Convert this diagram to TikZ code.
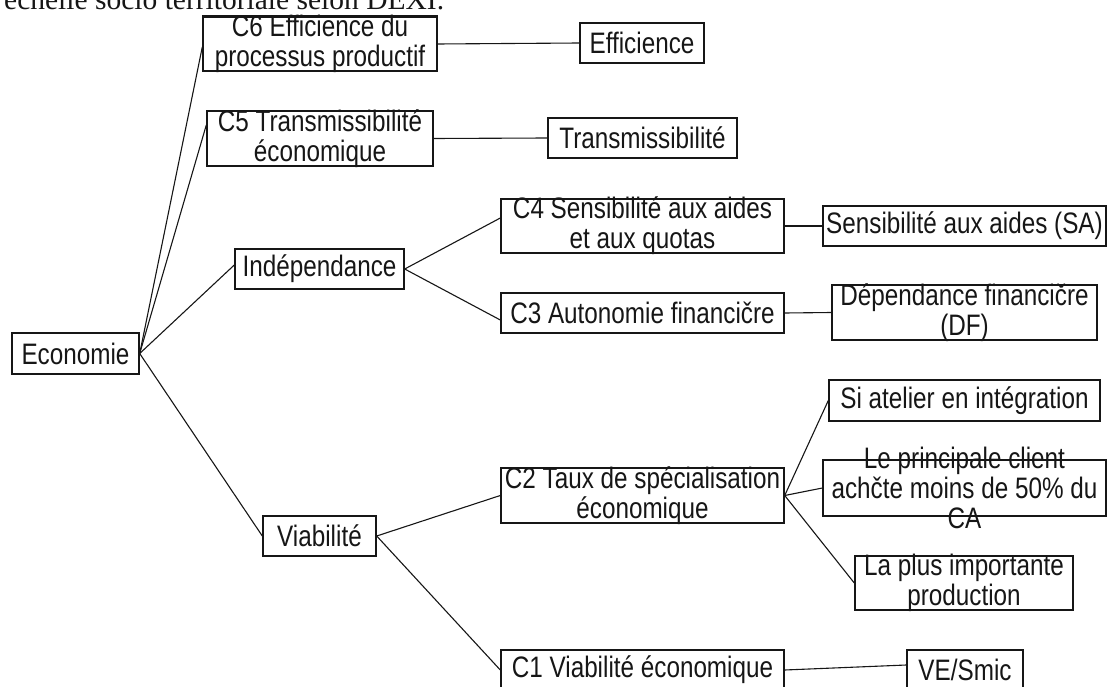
\documentclass[tikz,border=0pt]{standalone}
\usepackage{fontspec}
\setmainfont{Liberation Serif}
\newfontfamily\boxfont[FakeStretch=0.82]{Liberation Sans}
\usepackage{xcolor}
\definecolor{ink}{HTML}{161616}
\usetikzlibrary{positioning}
\tikzset{
  crit/.style={draw=ink,line width=1.4pt,fill=white,inner sep=0pt,minimum height=40},
  tall/.style={crit,minimum height=55},
  txt/.style={font={\boxfont\fontsize{29.6}{30}\selectfont},text=ink,align=center,inner sep=0pt},
  link/.style={draw=ink,line width=1.1pt},
  captext/.style={font={\fontsize{29.5}{30}\selectfont},text=ink,anchor=base west,inner sep=0pt},
}

\begin{document}
\begin{tikzpicture}[x=1pt,y=-1pt]
  \useasboundingbox (0,0) rectangle (1108,687);
  \clip (0,0) rectangle (1108,687);
  % caption, cut by the top of the page
  \node[captext] (title) at (4,9.5) {échelle socio territoriale selon DEXI.};

  % boxes
  \node[crit,minimum width=127,minimum height=41] (eco) at (75.5,353.5) {};
  \node[tall,minimum width=234,minimum height=54] (c6) at (320,44) {};
  \node[crit,minimum width=124] (eff) at (642,43) {};
  \node[tall,minimum width=226] (c5) at (320,138.5) {};
  \node[crit,minimum width=189] (tra) at (642.5,138) {};
  \node[crit,minimum width=169] (ind) at (319.5,269) {};
  \node[tall,minimum width=283,minimum height=54] (c4) at (642.5,226) {};
  \node[crit,minimum width=283] (sa) at (964.5,226) {};
  \node[crit,minimum width=283] (c3) at (642.5,313) {};
  \node[tall,minimum width=265] (df) at (964.5,312.5) {};
  \node[crit,minimum width=113] (via) at (319.5,536) {};
  \node[tall,minimum width=283] (c2) at (642.5,495.5) {};
  \node[crit,minimum width=271,minimum height=41] (si) at (964.5,400.5) {};
  \node[tall,minimum width=283,minimum height=56] (cli) at (964.5,488) {};
  \node[tall,minimum width=218,minimum height=54] (prod) at (964,583) {};
  \node[crit,minimum width=283] (c1) at (642.5,670) {};
  \node[crit,minimum width=116] (ve) at (965,670) {};
  \draw[draw=ink,line width=3pt] (c6.north west) -- (c6.north east);

  % texts
  \node[txt] (ecot) at (eco) {Economie};
  \node[txt] (c6t) at (c6) {C6 Efficience du\\processus productif};
  \node[txt] (efft) at (eff) {Efficience};
  \node[txt] (c5t) at (c5) {C5 Transmissibilité\\économique};
  \node[txt] (trat) at (tra) {Transmissibilité};
  \node[txt] (indt) at (ind) {Indépendance};
  \node[txt] (c4t) at (c4) {C4 Sensibilité aux aides\\et aux quotas};
  \node[txt] (sat) at (sa) {Sensibilité aux aides (SA)};
  \node[txt] (c3t) at (c3) {C3 Autonomie financičre};
  \node[txt] (dft) at (df) {Dépendance financičre\\(DF)};
  \node[txt] (viat) at (via) {Viabilité};
  \node[txt] (c2t) at (c2) {C2 Taux de spécialisation\\économique};
  \node[txt] (sit) at (si) {Si atelier en intégration};
  \node[txt] (clit) at (cli) {Le principale client\\achčte moins de 50\% du\\CA};
  \node[txt] (prodt) at (prod) {La plus importante\\production};
  \node[txt] (c1t) at (c1) {C1 Viabilité économique};
  \node[txt] (vet) at (ve) {VE/Smic};

  % links
  \draw[link] (eco.east) -- ([yshift=-3pt]c6.west);
  \draw[link] (eco.east) -- ([yshift=13.5pt]c5.west);
  \draw[link] (eco.east) -- ([yshift=4pt]ind.west);
  \draw[link] (eco.east) -- (via.west);
  \draw[link] (c6.east) -- (eff.west);
  \draw[link] (c5.east) -- (tra.west);
  \draw[link] (ind.east) -- ([yshift=8pt]c4.west);
  \draw[link] (ind.east) -- ([yshift=-7pt]c3.west);
  \draw[link] (c4.east) -- (sa.west);
  \draw[link] (c3.east) -- (df.west);
  \draw[link] (via.east) -- (c2.west);
  \draw[link] (via.east) -- (c1.west);
  \draw[link] (c2.east) -- (si.west);
  \draw[link] (c2.east) -- (cli.west);
  \draw[link] (c2.east) -- (prod.west);
  \draw[link] (c1.east) -- ([yshift=5pt]ve.west);
\end{tikzpicture}
\end{document}
